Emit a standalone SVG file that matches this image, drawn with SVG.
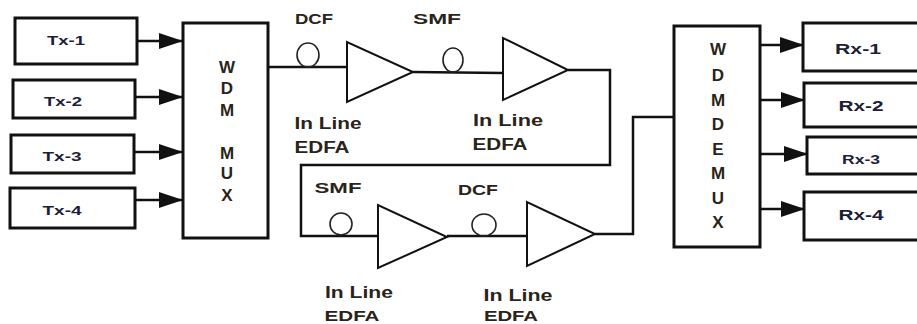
<svg xmlns="http://www.w3.org/2000/svg" width="917" height="324" viewBox="0 0 917 324">
<style>
.box{fill:#fff;stroke:#111;stroke-width:3}
.amp{fill:#fff;stroke:#111;stroke-width:2}
.w{fill:none;stroke:#111;stroke-width:2.5}
.coil{fill:none;stroke:#222;stroke-width:1.6}
.t{font-family:"Liberation Sans",Arial,sans-serif;font-weight:bold;fill:#1c2036;text-anchor:middle}
.l{font-family:"Liberation Sans",Arial,sans-serif;font-weight:bold;fill:#2a2418;text-anchor:middle}
.big{font-family:"Liberation Sans",Arial,sans-serif;font-weight:bold;fill:#2a2418;text-anchor:middle;font-size:17px}
</style>
<defs>
<marker id="ah" markerWidth="24" markerHeight="16" refX="24" refY="8" orient="auto" markerUnits="userSpaceOnUse">
<path d="M0,0 L24,8 L0,16 Z" fill="#111"/>
</marker>
</defs>
<g id="connectors">
<line class="w" x1="137" y1="41" x2="183" y2="41" marker-end="url(#ah)"/>
<line class="w" x1="135" y1="97" x2="183" y2="97" marker-end="url(#ah)"/>
<line class="w" x1="134" y1="152" x2="183" y2="152" marker-end="url(#ah)"/>
<line class="w" x1="135" y1="200" x2="183" y2="200" marker-end="url(#ah)"/>
<polyline class="w" points="262,67 347,67"/>
<polyline class="w" points="413,72 503,73"/>
<polyline class="w" points="568,70 610,70 610,165 301,165 301,236 378,236"/>
<polyline class="w" points="447,236 527,236"/>
<polyline class="w" points="595,234 633,234 633,117 674,117"/>
<line class="w" x1="760" y1="45" x2="804" y2="45" marker-end="url(#ah)"/>
<line class="w" x1="760" y1="100" x2="805" y2="100" marker-end="url(#ah)"/>
<line class="w" x1="760" y1="154" x2="808" y2="154" marker-end="url(#ah)"/>
<line class="w" x1="760" y1="209" x2="805" y2="209" marker-end="url(#ah)"/>
</g>
<g id="tx1"><rect class="box" x="15" y="18" width="122" height="46"/><text class="t" x="66" y="45" font-size="13" textLength="38" lengthAdjust="spacingAndGlyphs">Tx-1</text></g>
<g id="tx2"><rect class="box" x="13" y="80" width="122" height="38"/><text class="t" x="63" y="106" font-size="13" textLength="38" lengthAdjust="spacingAndGlyphs">Tx-2</text></g>
<g id="tx3"><rect class="box" x="11" y="135" width="123" height="38"/><text class="t" x="62" y="161" font-size="13" textLength="39" lengthAdjust="spacingAndGlyphs">Tx-3</text></g>
<g id="tx4"><rect class="box" x="10" y="188" width="125" height="40"/><text class="t" x="62" y="215" font-size="13" textLength="39" lengthAdjust="spacingAndGlyphs">Tx-4</text></g>
<g id="mux"><rect class="box" x="183" y="23" width="85" height="215"/>
<text class="big" x="227" y="73">W</text><text class="big" x="227" y="94">D</text><text class="big" x="227" y="116">M</text><text class="big" x="227" y="159">M</text><text class="big" x="227" y="179">U</text><text class="big" x="227" y="201">X</text></g>
<g id="dcf1"><ellipse class="coil" cx="308" cy="55" rx="11" ry="12"/><text class="l" x="314" y="24" font-size="14" textLength="38" lengthAdjust="spacingAndGlyphs">DCF</text></g>
<g id="amp1"><polygon class="amp" points="347,42 347,102 413,72"/><text class="l" x="328" y="129" font-size="16" textLength="67" lengthAdjust="spacingAndGlyphs">In Line</text><text class="l" x="322" y="153" font-size="16" textLength="55" lengthAdjust="spacingAndGlyphs">EDFA</text></g>
<g id="smf1"><ellipse class="coil" cx="453" cy="60" rx="10" ry="12"/><text class="l" x="437" y="24" font-size="14" textLength="48" lengthAdjust="spacingAndGlyphs">SMF</text></g>
<g id="amp2"><polygon class="amp" points="503,38 503,100 568,70"/><text class="l" x="508" y="126" font-size="16" textLength="70" lengthAdjust="spacingAndGlyphs">In Line</text><text class="l" x="500" y="150" font-size="16" textLength="55" lengthAdjust="spacingAndGlyphs">EDFA</text></g>
<g id="smf2"><ellipse class="coil" cx="341" cy="224" rx="11" ry="11"/><text class="l" x="338" y="193" font-size="15" textLength="47" lengthAdjust="spacingAndGlyphs">SMF</text></g>
<g id="amp3"><polygon class="amp" points="378,205 378,268 447,237"/><text class="l" x="359" y="298" font-size="16" textLength="68" lengthAdjust="spacingAndGlyphs">In Line</text><text class="l" x="352" y="321" font-size="15" textLength="55" lengthAdjust="spacingAndGlyphs">EDFA</text></g>
<g id="dcf2"><ellipse class="coil" cx="484" cy="225" rx="12" ry="11"/><text class="l" x="478" y="195" font-size="15" textLength="40" lengthAdjust="spacingAndGlyphs">DCF</text></g>
<g id="amp4"><polygon class="amp" points="527,202 527,266 595,234"/><text class="l" x="518" y="301" font-size="16" textLength="69" lengthAdjust="spacingAndGlyphs">In Line</text><text class="l" x="511" y="321" font-size="15" textLength="54" lengthAdjust="spacingAndGlyphs">EDFA</text></g>
<g id="demux"><rect class="box" x="674" y="26" width="86" height="221"/>
<text class="big" x="718" y="55">W</text><text class="big" x="718" y="81">D</text><text class="big" x="718" y="106">M</text><text class="big" x="718" y="130">D</text><text class="big" x="718" y="155">E</text><text class="big" x="718" y="179">M</text><text class="big" x="718" y="204">U</text><text class="big" x="718" y="228">X</text></g>
<g id="rx1"><rect class="box" x="803" y="23" width="130" height="48"/><text class="t" x="858" y="54" font-size="15" textLength="46" lengthAdjust="spacingAndGlyphs">Rx-1</text></g>
<g id="rx2"><rect class="box" x="804" y="83" width="130" height="44"/><text class="t" x="861" y="111" font-size="15" textLength="45" lengthAdjust="spacingAndGlyphs">Rx-2</text></g>
<g id="rx3"><rect class="box" x="807" y="137" width="130" height="37"/><text class="t" x="861" y="164" font-size="13" textLength="38" lengthAdjust="spacingAndGlyphs">Rx-3</text></g>
<g id="rx4"><rect class="box" x="804" y="192" width="130" height="48"/><text class="t" x="861" y="220" font-size="15" textLength="45" lengthAdjust="spacingAndGlyphs">Rx-4</text></g>
</svg>
